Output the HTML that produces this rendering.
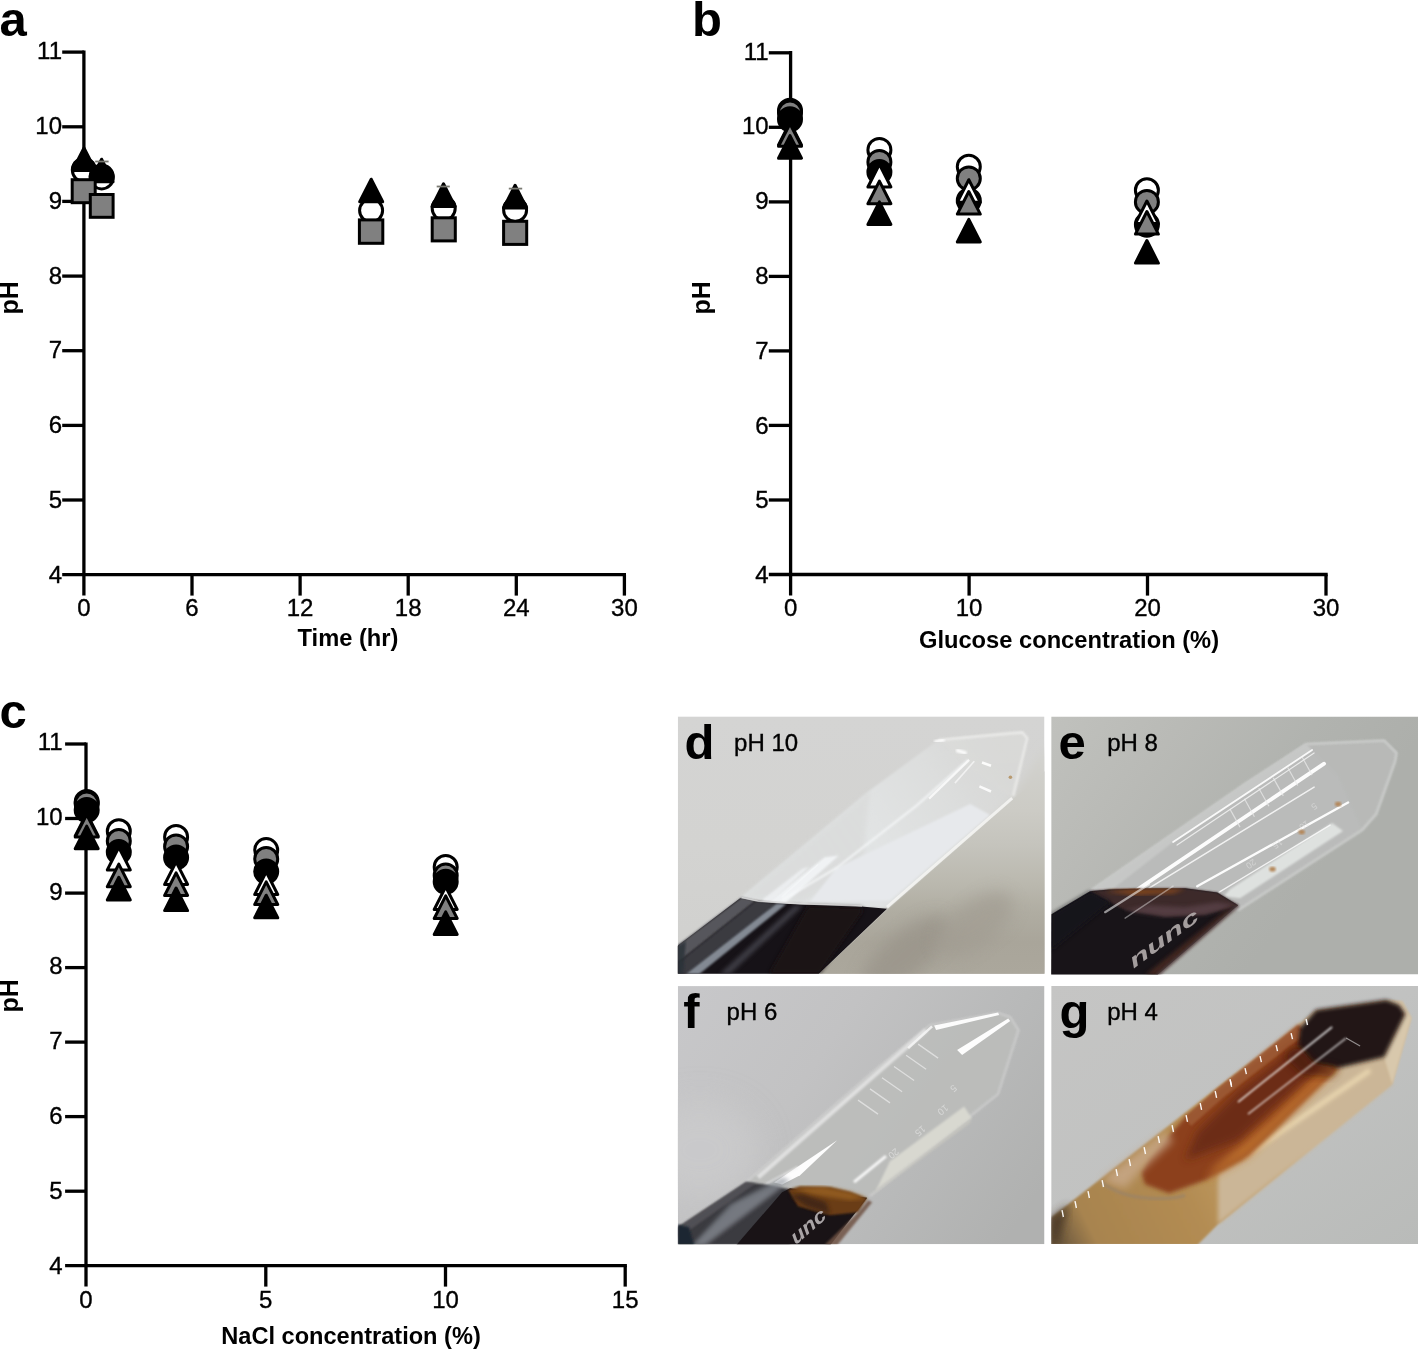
<!DOCTYPE html>
<html lang="en"><head><meta charset="utf-8"><title>Figure</title>
<style>
html,body{margin:0;padding:0;background:#fff;}
body{width:1418px;height:1349px;overflow:hidden;}
svg{display:block;}
text{font-family:"Liberation Sans",sans-serif;fill:#000;}
.t{font-size:24px;stroke:#000;stroke-width:0.35px;}
.b{font-size:24px;font-weight:bold;}
.L{font-size:49px;font-weight:bold;}
.p{font-size:24px;stroke:#000;stroke-width:0.35px;}
</style></head><body>
<svg width="1418" height="1349" viewBox="0 0 1418 1349">
<rect width="1418" height="1349" fill="#fff"/>

<g id="panel-a">
<path d="M83.9,50.5 V595.6" stroke="#000" stroke-width="3.3" fill="none"/>
<path d="M62.2,574.7 H626.0" stroke="#000" stroke-width="3.3" fill="none"/>
<path d="M62.2,52.1 H83.9" stroke="#000" stroke-width="3.3"/>
<text x="62.0" y="58.7" text-anchor="end" class="t">11</text>
<path d="M62.2,126.8 H83.9" stroke="#000" stroke-width="3.3"/>
<text x="62.0" y="133.6" text-anchor="end" class="t">10</text>
<path d="M62.2,201.4 H83.9" stroke="#000" stroke-width="3.3"/>
<text x="62.0" y="208.6" text-anchor="end" class="t">9</text>
<path d="M62.2,276.1 H83.9" stroke="#000" stroke-width="3.3"/>
<text x="62.0" y="283.5" text-anchor="end" class="t">8</text>
<path d="M62.2,350.7 H83.9" stroke="#000" stroke-width="3.3"/>
<text x="62.0" y="358.4" text-anchor="end" class="t">7</text>
<path d="M62.2,425.4 H83.9" stroke="#000" stroke-width="3.3"/>
<text x="62.0" y="433.3" text-anchor="end" class="t">6</text>
<path d="M62.2,500.0 H83.9" stroke="#000" stroke-width="3.3"/>
<text x="62.0" y="508.3" text-anchor="end" class="t">5</text>
<text x="62.0" y="583.2" text-anchor="end" class="t">4</text>
<text x="83.9" y="616.0" text-anchor="middle" class="t">0</text>
<path d="M192.0,574.7 V595.6" stroke="#000" stroke-width="3.3"/>
<text x="192.0" y="616.0" text-anchor="middle" class="t">6</text>
<path d="M300.1,574.7 V595.6" stroke="#000" stroke-width="3.3"/>
<text x="300.1" y="616.0" text-anchor="middle" class="t">12</text>
<path d="M408.2,574.7 V595.6" stroke="#000" stroke-width="3.3"/>
<text x="408.2" y="616.0" text-anchor="middle" class="t">18</text>
<path d="M516.3,574.7 V595.6" stroke="#000" stroke-width="3.3"/>
<text x="516.3" y="616.0" text-anchor="middle" class="t">24</text>
<path d="M624.4,574.7 V595.6" stroke="#000" stroke-width="3.3"/>
<text x="624.4" y="616.0" text-anchor="middle" class="t">30</text>
<text x="348.0" y="646.3" text-anchor="middle" class="b" style="font-size:23.7px">Time (hr)</text>
<text transform="translate(17.8,314.6) rotate(-90)" class="b" style="font-size:25px">pH</text>
<text x="-0.5" y="35.6" class="L">a</text>
<circle cx="83.9" cy="170.2" r="11.50" fill="#fff" stroke="#000" stroke-width="3.0"/>
<path d="M70.99,171.50 A13.0,13.0 0 1 1 96.81,171.50 Z" fill="#000"/>
<polygon points="84.0,147.9 95.5,170.5 72.5,170.5" fill="#000" stroke="#000" stroke-width="3.0" stroke-linejoin="round"/>
<circle cx="101.7" cy="177.4" r="11.50" fill="#fff" stroke="#000" stroke-width="3.0"/>
<path d="M90.44,183.00 A13.0,13.0 0 1 1 112.96,183.00 Z" fill="#000"/>
<polygon points="101.6,159.2 113.1,181.8 90.1,181.8" fill="#000" stroke="#000" stroke-width="3.0" stroke-linejoin="round"/>
<path d="M95.2,161.5 H108.6" stroke="#7a7a72" stroke-width="1.8"/>
<rect x="72.2" y="179.7" width="23.0" height="23.0" fill="#808080" stroke="#000" stroke-width="3.0"/>
<rect x="90.3" y="194.5" width="22.8" height="22.8" fill="#808080" stroke="#000" stroke-width="3.0"/>
<circle cx="371.1" cy="210.5" r="11.50" fill="#fff" stroke="#000" stroke-width="3.0"/>
<path d="M360.85,202.50 A13.0,13.0 0 0 1 381.35,202.50 Z" fill="#000"/>
<polygon points="371.2,179.2 382.7,201.8 359.7,201.8" fill="#000" stroke="#000" stroke-width="3.0" stroke-linejoin="round"/>
<rect x="359.4" y="219.9" width="23.4" height="23.4" fill="#808080" stroke="#000" stroke-width="3.0"/>
<circle cx="443.7" cy="208.6" r="11.50" fill="#fff" stroke="#000" stroke-width="3.0"/>
<path d="M430.73,207.50 A13.0,13.0 0 0 1 456.67,207.50 Z" fill="#000"/>
<polygon points="443.5,183.8 455.0,206.4 432.0,206.4" fill="#000" stroke="#000" stroke-width="3.0" stroke-linejoin="round"/>
<rect x="432.2" y="217.8" width="23.1" height="23.1" fill="#808080" stroke="#000" stroke-width="3.0"/>
<path d="M436.7,186.5 H449.8" stroke="#7a7a72" stroke-width="1.8"/>
<circle cx="515.1" cy="210.0" r="11.50" fill="#fff" stroke="#000" stroke-width="3.0"/>
<path d="M502.12,209.00 A13.0,13.0 0 0 1 528.08,209.00 Z" fill="#000"/>
<polygon points="515.1,185.3 526.6,207.9 503.6,207.9" fill="#000" stroke="#000" stroke-width="3.0" stroke-linejoin="round"/>
<rect x="503.6" y="221.3" width="23.1" height="23.1" fill="#808080" stroke="#000" stroke-width="3.0"/>
<path d="M508.8,188.6 H522.2" stroke="#7a7a72" stroke-width="1.8"/>
</g>
<g id="panel-b">
<path d="M790.6,51.1 V595.6" stroke="#000" stroke-width="3.3" fill="none"/>
<path d="M768.8,574.5 H1327.7" stroke="#000" stroke-width="3.3" fill="none"/>
<path d="M768.8,52.8 H790.6" stroke="#000" stroke-width="3.3"/>
<text x="768.7" y="59.6" text-anchor="end" class="t">11</text>
<path d="M768.8,127.3 H790.6" stroke="#000" stroke-width="3.3"/>
<text x="768.7" y="134.4" text-anchor="end" class="t">10</text>
<path d="M768.8,201.9 H790.6" stroke="#000" stroke-width="3.3"/>
<text x="768.7" y="209.2" text-anchor="end" class="t">9</text>
<path d="M768.8,276.4 H790.6" stroke="#000" stroke-width="3.3"/>
<text x="768.7" y="283.9" text-anchor="end" class="t">8</text>
<path d="M768.8,350.9 H790.6" stroke="#000" stroke-width="3.3"/>
<text x="768.7" y="358.7" text-anchor="end" class="t">7</text>
<path d="M768.8,425.4 H790.6" stroke="#000" stroke-width="3.3"/>
<text x="768.7" y="433.5" text-anchor="end" class="t">6</text>
<path d="M768.8,500.0 H790.6" stroke="#000" stroke-width="3.3"/>
<text x="768.7" y="508.3" text-anchor="end" class="t">5</text>
<text x="768.7" y="583.0" text-anchor="end" class="t">4</text>
<text x="790.6" y="616.0" text-anchor="middle" class="t">0</text>
<path d="M969.1,574.5 V595.6" stroke="#000" stroke-width="3.3"/>
<text x="969.1" y="616.0" text-anchor="middle" class="t">10</text>
<path d="M1147.5,574.5 V595.6" stroke="#000" stroke-width="3.3"/>
<text x="1147.5" y="616.0" text-anchor="middle" class="t">20</text>
<path d="M1326.0,574.5 V595.6" stroke="#000" stroke-width="3.3"/>
<text x="1326.0" y="616.0" text-anchor="middle" class="t">30</text>
<text x="1069.0" y="648.0" text-anchor="middle" class="b" style="font-size:23.7px">Glucose concentration (%)</text>
<text transform="translate(709.9,314.6) rotate(-90)" class="b" style="font-size:25px">pH</text>
<text x="692.0" y="35.6" class="L">b</text>
<circle cx="790.0" cy="110.8" r="11.50" fill="#fff" stroke="#000" stroke-width="3.0"/>
<circle cx="790.0" cy="112.5" r="11.50" fill="#808080" stroke="#000" stroke-width="3.0"/>
<circle cx="790.0" cy="119.3" r="11.50" fill="#000" stroke="#000" stroke-width="3.0"/>
<polygon points="790.0,122.4 801.5,145.0 778.5,145.0" fill="#fff" stroke="#000" stroke-width="3.0" stroke-linejoin="round"/>
<polygon points="790.0,123.7 801.5,146.3 778.5,146.3" fill="#808080" stroke="#000" stroke-width="3.0" stroke-linejoin="round"/>
<polygon points="790.0,135.6 801.5,158.2 778.5,158.2" fill="#000" stroke="#000" stroke-width="3.0" stroke-linejoin="round"/>
<circle cx="879.4" cy="149.9" r="11.50" fill="#fff" stroke="#000" stroke-width="3.0"/>
<circle cx="879.4" cy="161.9" r="11.50" fill="#808080" stroke="#000" stroke-width="3.0"/>
<circle cx="879.4" cy="172.1" r="11.50" fill="#000" stroke="#000" stroke-width="3.0"/>
<polygon points="879.4,164.4 890.9,187.0 867.9,187.0" fill="#fff" stroke="#000" stroke-width="3.0" stroke-linejoin="round"/>
<polygon points="879.4,181.1 890.9,203.7 867.9,203.7" fill="#808080" stroke="#000" stroke-width="3.0" stroke-linejoin="round"/>
<polygon points="879.4,201.9 890.9,224.5 867.9,224.5" fill="#000" stroke="#000" stroke-width="3.0" stroke-linejoin="round"/>
<circle cx="968.8" cy="166.8" r="11.50" fill="#fff" stroke="#000" stroke-width="3.0"/>
<circle cx="968.8" cy="178.4" r="11.50" fill="#808080" stroke="#000" stroke-width="3.0"/>
<circle cx="968.8" cy="200.5" r="11.50" fill="#000" stroke="#000" stroke-width="3.0"/>
<polygon points="968.8,179.7 980.3,202.3 957.3,202.3" fill="#fff" stroke="#000" stroke-width="3.0" stroke-linejoin="round"/>
<polygon points="968.8,191.5 980.3,214.1 957.3,214.1" fill="#808080" stroke="#000" stroke-width="3.0" stroke-linejoin="round"/>
<polygon points="968.8,219.4 980.3,242.0 957.3,242.0" fill="#000" stroke="#000" stroke-width="3.0" stroke-linejoin="round"/>
<circle cx="1146.9" cy="190.3" r="11.50" fill="#fff" stroke="#000" stroke-width="3.0"/>
<circle cx="1146.9" cy="201.9" r="11.50" fill="#808080" stroke="#000" stroke-width="3.0"/>
<circle cx="1146.9" cy="224.8" r="11.50" fill="#000" stroke="#000" stroke-width="3.0"/>
<polygon points="1146.9,201.0 1158.4,223.6 1135.4,223.6" fill="#fff" stroke="#000" stroke-width="3.0" stroke-linejoin="round"/>
<polygon points="1146.9,211.5 1158.4,234.1 1135.4,234.1" fill="#808080" stroke="#000" stroke-width="3.0" stroke-linejoin="round"/>
<polygon points="1146.9,240.5 1158.4,263.1 1135.4,263.1" fill="#000" stroke="#000" stroke-width="3.0" stroke-linejoin="round"/>
</g>
<g id="panel-c">
<path d="M86.0,742.4 V1286.6" stroke="#000" stroke-width="3.3" fill="none"/>
<path d="M65.1,1265.7 H626.9" stroke="#000" stroke-width="3.3" fill="none"/>
<path d="M65.1,744.0 H86.0" stroke="#000" stroke-width="3.3"/>
<text x="62.6" y="749.9" text-anchor="end" class="t">11</text>
<path d="M65.1,818.5 H86.0" stroke="#000" stroke-width="3.3"/>
<text x="62.6" y="824.7" text-anchor="end" class="t">10</text>
<path d="M65.1,893.1 H86.0" stroke="#000" stroke-width="3.3"/>
<text x="62.6" y="899.6" text-anchor="end" class="t">9</text>
<path d="M65.1,967.6 H86.0" stroke="#000" stroke-width="3.3"/>
<text x="62.6" y="974.4" text-anchor="end" class="t">8</text>
<path d="M65.1,1042.1 H86.0" stroke="#000" stroke-width="3.3"/>
<text x="62.6" y="1049.2" text-anchor="end" class="t">7</text>
<path d="M65.1,1116.6 H86.0" stroke="#000" stroke-width="3.3"/>
<text x="62.6" y="1124.0" text-anchor="end" class="t">6</text>
<path d="M65.1,1191.2 H86.0" stroke="#000" stroke-width="3.3"/>
<text x="62.6" y="1198.9" text-anchor="end" class="t">5</text>
<text x="62.6" y="1273.7" text-anchor="end" class="t">4</text>
<text x="86.0" y="1308.0" text-anchor="middle" class="t">0</text>
<path d="M265.8,1265.7 V1286.6" stroke="#000" stroke-width="3.3"/>
<text x="265.8" y="1308.0" text-anchor="middle" class="t">5</text>
<path d="M445.5,1265.7 V1286.6" stroke="#000" stroke-width="3.3"/>
<text x="445.5" y="1308.0" text-anchor="middle" class="t">10</text>
<path d="M625.2,1265.7 V1286.6" stroke="#000" stroke-width="3.3"/>
<text x="625.2" y="1308.0" text-anchor="middle" class="t">15</text>
<text x="351.0" y="1343.6" text-anchor="middle" class="b" style="font-size:23.6px">NaCl concentration (%)</text>
<text transform="translate(17.8,1012.4) rotate(-90)" class="b" style="font-size:25px">pH</text>
<text x="-0.5" y="727.6" class="L">c</text>
<circle cx="86.7" cy="801.9" r="11.50" fill="#fff" stroke="#000" stroke-width="3.0"/>
<circle cx="86.7" cy="803.6" r="11.50" fill="#808080" stroke="#000" stroke-width="3.0"/>
<circle cx="86.7" cy="810.0" r="11.50" fill="#000" stroke="#000" stroke-width="3.0"/>
<polygon points="86.7,813.4 98.2,836.0 75.2,836.0" fill="#fff" stroke="#000" stroke-width="3.0" stroke-linejoin="round"/>
<polygon points="86.7,814.5 98.2,837.1 75.2,837.1" fill="#808080" stroke="#000" stroke-width="3.0" stroke-linejoin="round"/>
<polygon points="86.7,826.1 98.2,848.7 75.2,848.7" fill="#000" stroke="#000" stroke-width="3.0" stroke-linejoin="round"/>
<circle cx="118.8" cy="831.2" r="11.50" fill="#fff" stroke="#000" stroke-width="3.0"/>
<circle cx="118.8" cy="841.0" r="11.50" fill="#808080" stroke="#000" stroke-width="3.0"/>
<circle cx="118.8" cy="852.1" r="11.50" fill="#000" stroke="#000" stroke-width="3.0"/>
<polygon points="118.8,847.3 130.3,869.9 107.3,869.9" fill="#fff" stroke="#000" stroke-width="3.0" stroke-linejoin="round"/>
<polygon points="118.8,864.1 130.3,886.7 107.3,886.7" fill="#808080" stroke="#000" stroke-width="3.0" stroke-linejoin="round"/>
<polygon points="118.8,877.3 130.3,899.9 107.3,899.9" fill="#000" stroke="#000" stroke-width="3.0" stroke-linejoin="round"/>
<circle cx="176.1" cy="837.0" r="11.50" fill="#fff" stroke="#000" stroke-width="3.0"/>
<circle cx="176.1" cy="846.4" r="11.50" fill="#808080" stroke="#000" stroke-width="3.0"/>
<circle cx="176.1" cy="857.4" r="11.50" fill="#000" stroke="#000" stroke-width="3.0"/>
<polygon points="176.1,861.9 187.6,884.5 164.6,884.5" fill="#fff" stroke="#000" stroke-width="3.0" stroke-linejoin="round"/>
<polygon points="176.1,872.9 187.6,895.5 164.6,895.5" fill="#808080" stroke="#000" stroke-width="3.0" stroke-linejoin="round"/>
<polygon points="176.1,888.0 187.6,910.6 164.6,910.6" fill="#000" stroke="#000" stroke-width="3.0" stroke-linejoin="round"/>
<circle cx="266.2" cy="850.1" r="11.50" fill="#fff" stroke="#000" stroke-width="3.0"/>
<circle cx="266.2" cy="859.0" r="11.50" fill="#808080" stroke="#000" stroke-width="3.0"/>
<circle cx="266.2" cy="871.5" r="11.50" fill="#000" stroke="#000" stroke-width="3.0"/>
<polygon points="266.2,871.9 277.7,894.5 254.7,894.5" fill="#fff" stroke="#000" stroke-width="3.0" stroke-linejoin="round"/>
<polygon points="266.2,881.9 277.7,904.5 254.7,904.5" fill="#808080" stroke="#000" stroke-width="3.0" stroke-linejoin="round"/>
<polygon points="266.2,895.2 277.7,917.8 254.7,917.8" fill="#000" stroke="#000" stroke-width="3.0" stroke-linejoin="round"/>
<circle cx="445.7" cy="867.0" r="11.50" fill="#fff" stroke="#000" stroke-width="3.0"/>
<circle cx="445.7" cy="875.5" r="11.50" fill="#808080" stroke="#000" stroke-width="3.0"/>
<circle cx="445.7" cy="881.7" r="11.50" fill="#000" stroke="#000" stroke-width="3.0"/>
<polygon points="445.7,886.9 457.2,909.5 434.2,909.5" fill="#fff" stroke="#000" stroke-width="3.0" stroke-linejoin="round"/>
<polygon points="445.7,895.9 457.2,918.5 434.2,918.5" fill="#808080" stroke="#000" stroke-width="3.0" stroke-linejoin="round"/>
<polygon points="445.7,911.9 457.2,934.5 434.2,934.5" fill="#000" stroke="#000" stroke-width="3.0" stroke-linejoin="round"/>
</g>
<defs>
<filter id="b1" x="-10%" y="-10%" width="120%" height="120%"><feGaussianBlur stdDeviation="1"/></filter>
<filter id="b2" x="-10%" y="-10%" width="120%" height="120%"><feGaussianBlur stdDeviation="2"/></filter>
<filter id="b4" x="-20%" y="-20%" width="140%" height="140%"><feGaussianBlur stdDeviation="4"/></filter>
<filter id="b8" x="-30%" y="-30%" width="160%" height="160%"><feGaussianBlur stdDeviation="8"/></filter>
<filter id="b16" x="-50%" y="-50%" width="200%" height="200%"><feGaussianBlur stdDeviation="16"/></filter>
<clipPath id="cd"><rect x="677.8" y="716.4" width="366.7" height="257.3"/></clipPath>
<clipPath id="ce"><rect x="1051.2" y="716.5" width="366.8" height="258.0"/></clipPath>
<clipPath id="cf"><rect x="677.8" y="986.1" width="366.7" height="258.1"/></clipPath>
<clipPath id="cg"><rect x="1051.2" y="986.0" width="366.8" height="258.0"/></clipPath>
</defs>
<g id="photo-d" clip-path="url(#cd)">
<linearGradient id="dbg" x1="0" y1="0" x2="0" y2="1">
<stop offset="0" stop-color="#d4d4d3"/><stop offset="0.5" stop-color="#d3d3d1"/><stop offset="1" stop-color="#d0d0ce"/></linearGradient>
<linearGradient id="dbg2" gradientUnits="userSpaceOnUse" x1="0" y1="750" x2="0" y2="974">
<stop offset="0" stop-color="#d2d2ce"/><stop offset="0.27" stop-color="#cccbc5"/><stop offset="0.42" stop-color="#c5c4bd"/><stop offset="0.6" stop-color="#bab8ae"/><stop offset="0.72" stop-color="#b0ada2"/><stop offset="0.86" stop-color="#a9a59a"/><stop offset="1" stop-color="#aba79c"/></linearGradient>
<linearGradient id="dtube" gradientUnits="userSpaceOnUse" x1="760" y1="900" x2="1000" y2="745">
<stop offset="0" stop-color="#e6eaec" stop-opacity="0.7"/><stop offset="0.45" stop-color="#e6e9ea" stop-opacity="0.75"/><stop offset="0.75" stop-color="#e2e4e4" stop-opacity="0.6"/><stop offset="1" stop-color="#dcdddc" stop-opacity="0.35"/></linearGradient>
<rect x="677.8" y="716.4" width="366.7" height="257.3" fill="url(#dbg)"/>
<polygon points="1046.0,745.0 1012.2,798.1 887.0,908.2 818.0,975.0 1046.0,975.0" fill="url(#dbg2)" filter="url(#b4)"/>
<polygon points="1046.0,770.0 1012.2,800.0 887.0,910.0 818.0,975.0 1046.0,975.0" fill="url(#dbg2)" />
<ellipse cx="905" cy="955" rx="55" ry="22" fill="#9a948a" opacity="0.8" filter="url(#b8)" transform="rotate(-40 905 955)"/>
<ellipse cx="975" cy="925" rx="45" ry="22" fill="#a19c92" opacity="0.7" filter="url(#b8)" transform="rotate(-38 975 925)"/>
<polygon points="740.1,898.2 810.1,840.1 870.2,790.1 938.1,740.0 1008.0,731.5 1022.0,731.8 1027.0,738.0 1024.0,752.0 1012.2,798.1 887.0,908.2" fill="url(#dtube)" filter="url(#b1)"/>
<polygon points="740.1,898.2 810.1,840.1 870.0,790.5 862.0,869.7 802.6,902.1 750.7,898.8" fill="#d8d9d8" opacity="0.6" filter="url(#b2)"/>
<polygon points="938.1,740.0 1008.0,731.5 1022.0,731.8 1027.0,738.0 1024.0,752.0 1012.2,798.1 972.0,770.0" fill="#dcdcd9" opacity="0.35" filter="url(#b1)"/>
<polygon points="970.1,804.1 990.1,815.1 890.0,900.2 810.1,901.8 836.2,868.2" fill="#e7e9ec" filter="url(#b1)"/>
<polygon points="824.6,857.3 838.9,855.4 785.7,902.7 768.8,902.1" fill="#f2f4f6" opacity="0.95" filter="url(#b1)"/>
<polygon points="802.6,868.4 809.0,867.1 771.4,901.4 761.0,900.8" fill="#eef0f2" opacity="0.9" filter="url(#b1)"/>
<polyline points="818.1,864.5 781.8,896.9" fill="none" stroke="#f4f6f7" stroke-width="1.5" opacity="0.8"/>
<polyline points="968.1,760.1 916.1,806.1 836.2,868.2 782.1,900.2" fill="none" stroke="#f8fafb" stroke-width="2.0" opacity="0.85" filter="url(#b1)"/>
<polyline points="1012.2,798.1 887.0,907.2" fill="none" stroke="#f4f4f2" stroke-width="3.0" opacity="0.9"/>
<polyline points="938.1,740.0 1022.2,732.4 1027.2,738.0 1013.2,796.1" fill="none" stroke="#f0f0ee" stroke-width="2.5" opacity="0.8" filter="url(#b1)"/>
<polyline points="934.3,741.8 944.6,739.9" fill="none" stroke="#ffffff" stroke-width="3" opacity="0.9" filter="url(#b1)"/>
<polyline points="956.2,750.2 966.5,753.4" fill="none" stroke="#ffffff" stroke-width="3.5" opacity="0.95" filter="url(#b1)"/>
<polyline points="969.1,759.9 929.1,798.6" fill="none" stroke="#fafafa" stroke-width="2.2" opacity="0.9"/>
<polyline points="974.3,761.2 954.9,783.1" fill="none" stroke="#f6f6f6" stroke-width="1.6" opacity="0.8"/>
<polyline points="982.0,762.5 991.0,765.7" fill="none" stroke="#ffffff" stroke-width="2.5" opacity="0.9"/>
<polyline points="979.4,786.3 991.0,791.5" fill="none" stroke="#ffffff" stroke-width="2.5" opacity="0.85"/>
<circle cx="1010.4" cy="777.3" r="1.8" fill="#b89a70"/>
<polygon points="740.1,898.2 760.0,902.5 800.0,904.5 850.0,905.5 887.0,908.8 818.1,974.5 677.0,974.5 677.0,946.2" fill="#161217" />
<polygon points="807.8,906.0 862.0,907.3 862.0,912.5 819.4,974.0 768.8,974.0" fill="#1c1517" opacity="0.9" filter="url(#b2)"/>
<polygon points="741.6,897.5 755.9,900.8 678.0,962.4 678.0,944.9" fill="#56565b" filter="url(#b1)"/>
<polygon points="755.9,900.8 776.6,903.4 685.8,974.0 678.0,974.0 678.0,962.4" fill="#3a3a40" filter="url(#b1)"/>
<polygon points="776.6,903.4 786.3,904.0 699.4,974.0 685.8,974.0" fill="#8f97a1" opacity="0.9" filter="url(#b1)"/>
<polygon points="794.8,905.3 802.6,906.0 729.9,974.0 719.5,974.0" fill="#4e4e56" opacity="0.7" filter="url(#b2)"/>
<polygon points="678.0,946.2 685.8,941.0 683.2,974.0 678.0,974.0" fill="#2a3038" opacity="0.8" filter="url(#b1)"/>
<polyline points="741.6,897.5 758.4,901.1 807.8,904.0 862.0,906.0" fill="none" stroke="#dcdcdc" stroke-width="1.3" opacity="0.8"/>
</g>
<text x="684.4" y="759.3" class="L">d</text><text x="734.1" y="751.3" class="p">pH 10</text>
<g id="photo-e" clip-path="url(#ce)">
<linearGradient id="ebg" gradientUnits="userSpaceOnUse" x1="1051" y1="716" x2="1300" y2="900">
<stop offset="0" stop-color="#c0c1bd"/><stop offset="0.35" stop-color="#b9bab6"/><stop offset="0.7" stop-color="#b1b3af"/><stop offset="1" stop-color="#adafab"/></linearGradient>
<rect x="1051.2" y="716.5" width="366.8" height="258.0" fill="url(#ebg)"/>
<polygon points="1090.0,891.2 1245.0,784.1 1306.1,744.0 1384.2,740.4 1396.6,753.0 1395.2,761.1 1376.2,814.1 1362.1,830.1 1238.0,910.2 1165.1,918.2" fill="#bbbcbb" opacity="0.95" filter="url(#b1)"/>
<polygon points="1306.1,744.0 1384.2,740.4 1396.6,753.0 1395.2,761.1 1376.2,814.1 1362.1,830.1 1338.1,776.1" fill="#b8b9b7" opacity="0.85" filter="url(#b1)"/>
<polyline points="1090.0,891.2 1245.0,784.1 1306.1,744.0 1384.2,740.4 1396.6,753.0 1395.2,761.1 1376.2,814.1 1362.1,830.1 1238.0,910.2" fill="none" stroke="#cfd0cf" stroke-width="2.5" opacity="0.85" filter="url(#b1)"/>
<polygon points="1090.0,891.2 1245.0,784.1 1306.1,744.0 1312.1,750.0 1173.1,842.1 1111.1,890.2" fill="#c8c9c8" opacity="0.9" filter="url(#b1)"/>
<polygon points="1332.1,823.1 1343.1,831.1 1240.0,898.2 1224.0,896.2 1230.0,889.2" fill="#e0e3e1" opacity="0.97" filter="url(#b1)"/>
<polyline points="1173.1,842.1 1312.1,750.0" fill="none" stroke="#ffffff" stroke-width="1.8" opacity="0.9" stroke-linecap="round"/>
<polyline points="1177.1,845.1 1314.1,753.0" fill="none" stroke="#ffffff" stroke-width="1.2" opacity="0.7" stroke-linecap="round"/>
<polyline points="1125.1,897.8 1324.1,763.7" fill="none" stroke="#ffffff" stroke-width="3.8" opacity="0.95" stroke-linecap="round"/>
<polyline points="1149.1,888.2 1314.1,787.1" fill="none" stroke="#ffffff" stroke-width="1.5" opacity="0.8" stroke-linecap="round"/>
<polyline points="1197.2,886.2 1348.1,802.5" fill="none" stroke="#ffffff" stroke-width="2.4" opacity="0.95" stroke-linecap="round"/>
<polyline points="1219.2,892.2 1330.1,825.1" fill="none" stroke="#ffffff" stroke-width="1.4" opacity="0.8" stroke-linecap="round"/>
<polyline points="1230.0,809.1 1240.0,827.1" fill="none" stroke="#ececec" stroke-width="1.2" opacity="0.7"/>
<polyline points="1244.4,798.7 1254.4,816.7" fill="none" stroke="#ececec" stroke-width="1.2" opacity="0.7"/>
<polyline points="1258.8,788.3 1268.9,806.3" fill="none" stroke="#ececec" stroke-width="1.2" opacity="0.7"/>
<polyline points="1273.3,777.9 1283.3,795.9" fill="none" stroke="#ececec" stroke-width="1.2" opacity="0.7"/>
<polyline points="1287.7,767.5 1297.7,785.5" fill="none" stroke="#ececec" stroke-width="1.2" opacity="0.7"/>
<polyline points="1302.1,757.0 1312.1,775.1" fill="none" stroke="#ececec" stroke-width="1.2" opacity="0.7"/>
<text transform="translate(1314.6,802.6) rotate(145)" style="font-size:9px;fill:#e2e2e2;opacity:0.6">5</text>
<text transform="translate(1306.6,820.0) rotate(145)" style="font-size:9px;fill:#e2e2e2;opacity:0.6">10</text>
<text transform="translate(1279.9,838.6) rotate(145)" style="font-size:9px;fill:#e2e2e2;opacity:0.6">15</text>
<text transform="translate(1253.3,858.6) rotate(145)" style="font-size:9px;fill:#e2e2e2;opacity:0.6">20</text>
<ellipse cx="1338.1" cy="804.1" rx="3.2" ry="2.4" fill="#b4875a" filter="url(#b1)"/>
<ellipse cx="1301.7" cy="832.1" rx="3.2" ry="2.4" fill="#b4875a" filter="url(#b1)"/>
<ellipse cx="1272.5" cy="869.2" rx="3.2" ry="2.4" fill="#b4875a" filter="url(#b1)"/>
<polygon points="1051.4,914.2 1090.0,891.2 1109.1,889.6 1145.1,888.6 1185.1,888.2 1217.2,892.6 1238.2,905.2 1157.1,975.3 1051.0,975.3" fill="#181418" />
<polygon points="1090.0,891.2 1109.1,889.6 1145.1,888.6 1185.1,888.2 1217.2,892.6 1238.2,905.2 1205.2,914.6 1165.1,916.6 1125.1,910.2" fill="#3c2a2c" filter="url(#b1)"/>
<polygon points="1125.1,910.2 1165.1,916.6 1205.2,914.6 1238.2,905.2 1217.2,902.2 1185.1,907.2 1149.1,905.2" fill="#5a4248" opacity="0.8" filter="url(#b2)"/>
<polygon points="1105.1,891.2 1129.1,889.2 1157.1,888.8 1185.1,888.8 1173.1,893.2 1135.1,895.2" fill="#8a4a1c" opacity="0.85" filter="url(#b2)"/>
<polygon points="1051.4,914.2 1090.0,891.2 1111.1,902.2 1051.4,950.2" fill="#19151a" opacity="0.8" filter="url(#b2)"/>
<polyline points="1105.1,912.2 1149.1,884.2" fill="none" stroke="#ffffff" stroke-width="2.2" opacity="0.55" stroke-linecap="round"/>
<polyline points="1125.1,918.2 1173.1,886.2" fill="none" stroke="#ffffff" stroke-width="1.4" opacity="0.4" stroke-linecap="round"/>
<polygon points="1238.2,905.2 1225.2,911.2 1145.1,975.3 1157.1,975.3" fill="#4a2a22" opacity="0.9" filter="url(#b2)"/>
<polyline points="1238.2,905.2 1157.1,975.3" fill="none" stroke="#5a4a4c" stroke-width="3" opacity="0.7" filter="url(#b1)"/>
<text transform="translate(1133.5,968.7) rotate(-36.5) skewX(-8)" style="font-size:19px;font-weight:bold;font-style:italic;fill:#b4adad;opacity:0.9" textLength="83" lengthAdjust="spacingAndGlyphs">nunc</text>
</g>
<text x="1058.5" y="759.0" class="L">e</text><text x="1107.2" y="751.2" class="p">pH 8</text>
<g id="photo-f" clip-path="url(#cf)">
<linearGradient id="fbg" gradientUnits="userSpaceOnUse" x1="690" y1="1000" x2="1020" y2="1220">
<stop offset="0" stop-color="#c7c7c9"/><stop offset="0.35" stop-color="#c2c2c3"/><stop offset="0.7" stop-color="#b8b9b9"/><stop offset="1" stop-color="#b0b1b0"/></linearGradient>
<rect x="677.8" y="986.1" width="366.7" height="258.1" fill="url(#fbg)"/>
<ellipse cx="700" cy="1150" rx="60" ry="50" fill="#cccccd" opacity="0.7" filter="url(#b16)"/>
<polygon points="746.1,1182.2 870.0,1074.1 930.1,1025.0 998.1,1013.0 1010.2,1017.0 1018.6,1030.1 998.1,1094.1 870.0,1196.2 830.2,1245.3 678.0,1245.3 678.0,1227.2" fill="#bcbdbb" opacity="0.9" filter="url(#b1)"/>
<polyline points="746.1,1182.2 870.0,1074.1 930.1,1025.0 998.1,1013.0 1010.2,1017.0 1018.6,1030.1 998.1,1094.1 870.0,1196.2" fill="none" stroke="#d0d0d0" stroke-width="2.2" opacity="0.8" filter="url(#b1)"/>
<polyline points="758.1,1177.2 870.0,1079.1 926.1,1030.1" fill="none" stroke="#e6e6e6" stroke-width="4.5" opacity="0.85" filter="url(#b1)"/>
<polygon points="934.1,1025.6 998.1,1012.6 999.1,1015.0 936.1,1030.1" fill="#ffffff" opacity="0.95"/>
<polygon points="957.1,1050.1 1008.2,1018.6 1010.2,1021.0 962.1,1055.1" fill="#ffffff" opacity="0.97"/>
<polyline points="908.1,1048.1 932.1,1026.4" fill="none" stroke="#f4f4f4" stroke-width="2.6" opacity="0.9"/>
<polygon points="964.1,1106.5 971.7,1118.1 876.0,1190.2 890.0,1161.2" fill="#d8d8d0" filter="url(#b1)"/>
<polygon points="971.7,1118.1 876.0,1190.2 872.0,1195.2 970.1,1123.1" fill="#c8c7c0" opacity="0.8" filter="url(#b1)"/>
<polyline points="858.0,1100.1 878.0,1114.1" fill="none" stroke="#e6e6e6" stroke-width="1.3" opacity="0.8"/>
<polyline points="870.0,1088.9 890.0,1102.9" fill="none" stroke="#e6e6e6" stroke-width="1.3" opacity="0.8"/>
<polyline points="882.0,1077.7 902.1,1091.7" fill="none" stroke="#e6e6e6" stroke-width="1.3" opacity="0.8"/>
<polyline points="894.0,1066.5 914.1,1080.5" fill="none" stroke="#e6e6e6" stroke-width="1.3" opacity="0.8"/>
<polyline points="906.1,1055.3 926.1,1069.3" fill="none" stroke="#e6e6e6" stroke-width="1.3" opacity="0.8"/>
<polyline points="918.1,1044.1 938.1,1058.1" fill="none" stroke="#e6e6e6" stroke-width="1.3" opacity="0.8"/>
<text transform="translate(953.4,1084.2) rotate(140)" style="font-size:9.5px;fill:#e6e6e6;opacity:0.65">5</text>
<text transform="translate(944.9,1104.0) rotate(140)" style="font-size:9.5px;fill:#e6e6e6;opacity:0.65">10</text>
<text transform="translate(922.3,1125.1) rotate(140)" style="font-size:9.5px;fill:#e6e6e6;opacity:0.65">15</text>
<text transform="translate(895.5,1147.7) rotate(140)" style="font-size:9.5px;fill:#e6e6e6;opacity:0.65">20</text>
<polygon points="837.2,1140.2 800.1,1175.2 782.1,1184.6 774.1,1182.6" fill="#ffffff" opacity="0.97"/>
<polyline points="798.1,1167.2 764.1,1185.2" fill="none" stroke="#f2f2f2" stroke-width="2" opacity="0.8" filter="url(#b1)"/>
<polyline points="886.0,1156.2 854.0,1182.2" fill="none" stroke="#ffffff" stroke-width="3" opacity="0.9" filter="url(#b1)"/>
<polygon points="678.0,1227.2 746.1,1182.2 764.1,1184.2 790.1,1189.2 790.1,1245.3 678.0,1245.3" fill="#3b3a3f" filter="url(#b1)"/>
<polygon points="678.0,1227.2 746.1,1182.2 756.1,1183.2 678.0,1238.3" fill="#56555a" opacity="0.8" filter="url(#b1)"/>
<polygon points="736.1,1204.2 774.1,1186.2 782.1,1188.2 706.0,1245.3 694.0,1245.3" fill="#6d6c72" opacity="0.55" filter="url(#b2)"/>
<polygon points="730.1,1204.2 782.1,1177.2 790.1,1180.2 704.0,1245.3 692.0,1245.3" fill="#8b929a" opacity="0.6" filter="url(#b2)"/>
<polygon points="678.0,1224.6 689.0,1227.2 694.0,1245.3 678.0,1245.3" fill="#1d2530" filter="url(#b1)"/>
<polygon points="782.1,1192.2 790.1,1188.2 867.2,1197.8 830.2,1245.3 736.1,1245.3" fill="#191316" />
<polygon points="788.1,1189.8 800.1,1186.2 830.2,1187.0 850.2,1191.8 867.2,1198.2 858.2,1212.2 830.2,1215.2 798.1,1206.2" fill="#6a3c17" filter="url(#b1)"/>
<polygon points="794.1,1188.2 822.2,1186.6 850.2,1192.2 866.2,1198.2 850.2,1200.2 810.1,1194.2" fill="#9a6222" opacity="0.8" filter="url(#b2)"/>
<polygon points="790.1,1195.2 806.1,1206.2 830.2,1214.2 826.2,1202.2 802.1,1194.2" fill="#3a2418" opacity="0.8" filter="url(#b2)"/>
<polygon points="858.2,1212.2 868.2,1200.2 872.2,1202.2 837.2,1245.3 824.2,1245.3" fill="#6f5244" opacity="0.85" filter="url(#b1)"/>
<text transform="translate(795.7,1245.3) rotate(-41) skewX(-8)" style="font-size:19px;font-weight:bold;font-style:italic;fill:#c4bfc0;opacity:0.85" textLength="42" lengthAdjust="spacingAndGlyphs">unc</text>
</g>
<text x="683.3" y="1028.2" class="L">f</text><text x="726.6" y="1020.0" class="p">pH 6</text>
<g id="photo-g" clip-path="url(#cg)">
<linearGradient id="gbg" x1="0" y1="0" x2="1" y2="1">
<stop offset="0" stop-color="#c5c5c4"/><stop offset="0.5" stop-color="#c1c2c1"/><stop offset="1" stop-color="#b9bbb9"/></linearGradient>
<linearGradient id="gband" gradientUnits="userSpaceOnUse" x1="1300" y1="1040" x2="1345" y2="1100">
<stop offset="0" stop-color="#6e2d19"/><stop offset="0.45" stop-color="#873a1c"/><stop offset="0.8" stop-color="#be6e2d"/><stop offset="1" stop-color="#d8b888"/></linearGradient>
<linearGradient id="gtan" gradientUnits="userSpaceOnUse" x1="1060" y1="1240" x2="1300" y2="1120">
<stop offset="0" stop-color="#6e5a3e"/><stop offset="0.12" stop-color="#a88450"/><stop offset="0.5" stop-color="#b38c52"/><stop offset="0.8" stop-color="#c4a06a"/><stop offset="1" stop-color="#cdb692"/></linearGradient>
<rect x="1051.2" y="986.0" width="366.8" height="258.0" fill="url(#gbg)"/>
<polygon points="1051.4,1217.2 1245.0,1066.1 1316.1,1010.0 1386.2,1000.0 1402.2,1001.6 1411.2,1018.0 1392.2,1084.1 1218.0,1224.2 1197.2,1245.3 1051.0,1245.3" fill="url(#gtan)" filter="url(#b1)"/>
<polygon points="1338.1,1069.1 1384.2,1058.1 1392.2,1084.1 1218.0,1224.2 1218.0,1172.2 1248.0,1156.2" fill="#cbb697" filter="url(#b2)"/>
<polyline points="1370.2,1070.1 1244.0,1157.2" fill="none" stroke="#ead7b0" stroke-width="5" opacity="0.95" filter="url(#b2)"/>
<polygon points="1386.2,1000.0 1402.2,1001.6 1411.2,1018.0 1392.2,1084.1 1384.2,1058.1 1405.2,1014.0 1399.2,1005.0" fill="#d8c8ac" filter="url(#b1)"/>
<polygon points="1299.1,1024.4 1338.1,1068.1 1248.0,1156.2 1205.2,1180.2 1169.1,1193.2 1145.1,1184.2 1141.1,1172.2 1149.1,1158.2 1185.1,1117.1 1245.0,1068.7" fill="#8c3f1d" filter="url(#b2)"/>
<polygon points="1338.1,1068.1 1248.0,1156.2 1205.2,1180.2 1215.2,1166.2 1268.1,1120.1 1330.1,1060.1" fill="#c0732e" opacity="0.85" filter="url(#b4)"/>
<polygon points="1304.1,1040.1 1322.1,1064.1 1238.0,1140.2 1185.1,1160.2 1197.2,1132.2 1238.0,1092.1" fill="#692a17" opacity="0.9" filter="url(#b4)"/>
<polygon points="1298.1,1025.6 1218.0,1087.7 1185.1,1118.1 1191.1,1126.1 1224.0,1097.1 1304.1,1035.1" fill="#9c5a34" opacity="0.9" filter="url(#b1)"/>
<polygon points="1101.1,1180.2 1165.1,1132.2 1173.1,1140.2 1139.1,1172.2 1125.1,1188.2" fill="#c8a888" opacity="0.85" filter="url(#b4)"/>
<polygon points="1316.1,1010.0 1386.2,1000.0 1399.2,1005.0 1405.2,1014.0 1384.2,1057.1 1338.1,1068.1 1314.1,1064.1 1298.1,1046.1 1300.1,1028.0" fill="#231917" filter="url(#b2)"/>
<polygon points="1298.1,1046.1 1314.1,1064.1 1338.1,1068.1 1330.1,1076.1 1302.1,1074.1 1284.1,1056.1" fill="#4a1c10" opacity="0.8" filter="url(#b4)"/>
<polyline points="1332.1,1027.0 1238.0,1102.1" fill="none" stroke="#ffffff" stroke-width="1.6" opacity="0.85" filter="url(#b1)"/>
<polyline points="1346.1,1038.1 1248.0,1114.1" fill="none" stroke="#ffffff" stroke-width="1.4" opacity="0.75" filter="url(#b1)"/>
<polyline points="1346.1,1038.1 1360.1,1046.1" fill="none" stroke="#e0e0e0" stroke-width="1.2" opacity="0.6"/>
<path d="M1101.1,1182.2 Q1121.1,1197.2 1149.1,1198.2 T1185.1,1195.2" fill="none" stroke="#9c8466" stroke-width="3.5" opacity="0.75" filter="url(#b1)"/>
<polygon points="1051.0,1218.2 1069.0,1204.2 1057.0,1245.3 1051.0,1245.3" fill="#4a3826" opacity="0.9" filter="url(#b4)"/>
<polyline points="1062.0,1210.2 1063.4,1217.0" fill="none" stroke="#ffffff" stroke-width="1.4" opacity="0.95"/>
<polyline points="1075.0,1201.2 1076.4,1208.0" fill="none" stroke="#ffffff" stroke-width="1.4" opacity="0.95"/>
<polyline points="1088.0,1191.2 1089.4,1198.0" fill="none" stroke="#ffffff" stroke-width="1.4" opacity="0.95"/>
<polyline points="1102.1,1180.2 1103.5,1187.0" fill="none" stroke="#ffffff" stroke-width="1.4" opacity="0.95"/>
<polyline points="1116.1,1169.2 1117.5,1176.0" fill="none" stroke="#ffffff" stroke-width="1.4" opacity="0.95"/>
<polyline points="1129.1,1159.2 1130.5,1166.0" fill="none" stroke="#ffffff" stroke-width="1.4" opacity="0.95"/>
<polyline points="1144.1,1147.2 1145.5,1154.0" fill="none" stroke="#ffffff" stroke-width="1.4" opacity="0.95"/>
<polyline points="1158.1,1136.2 1159.5,1143.0" fill="none" stroke="#ffffff" stroke-width="1.4" opacity="0.95"/>
<polyline points="1172.1,1125.1 1173.5,1132.0" fill="none" stroke="#ffffff" stroke-width="1.4" opacity="0.95"/>
<polyline points="1186.1,1115.1 1187.5,1121.9" fill="none" stroke="#ffffff" stroke-width="1.4" opacity="0.95"/>
<polyline points="1200.2,1103.1 1201.6,1109.9" fill="none" stroke="#ffffff" stroke-width="1.4" opacity="0.95"/>
<polyline points="1215.2,1091.1 1216.6,1097.9" fill="none" stroke="#ffffff" stroke-width="1.4" opacity="0.95"/>
<polyline points="1230.2,1080.1 1231.6,1086.9" fill="none" stroke="#ffffff" stroke-width="1.4" opacity="0.95"/>
<polyline points="1230.0,1079.1 1231.4,1085.1" fill="none" stroke="#ffffff" stroke-width="1.4" opacity="0.95"/>
<polyline points="1245.0,1068.1 1246.4,1074.1" fill="none" stroke="#ffffff" stroke-width="1.4" opacity="0.95"/>
<polyline points="1260.0,1056.1 1261.4,1062.1" fill="none" stroke="#ffffff" stroke-width="1.4" opacity="0.95"/>
<polyline points="1276.1,1045.1 1277.5,1051.1" fill="none" stroke="#ffffff" stroke-width="1.4" opacity="0.95"/>
<polyline points="1291.1,1033.1 1292.5,1039.1" fill="none" stroke="#ffffff" stroke-width="1.4" opacity="0.95"/>
<polyline points="1306.1,1019.0 1307.5,1025.0" fill="none" stroke="#ffffff" stroke-width="1.4" opacity="0.95"/>
</g>
<text x="1059.5" y="1028.0" class="L">g</text><text x="1107.2" y="1020.0" class="p">pH 4</text>
</svg>
</body></html>
